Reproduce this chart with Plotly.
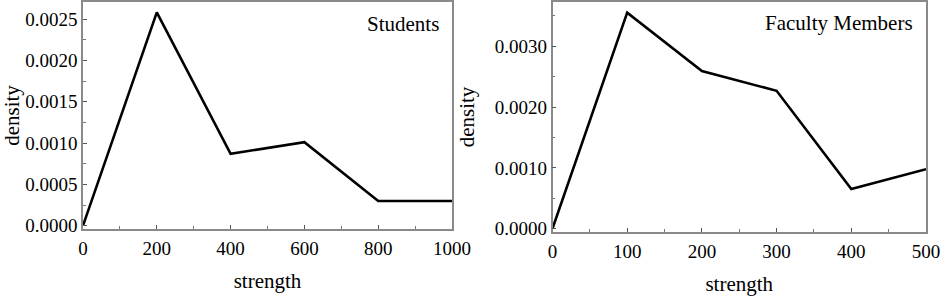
import plotly.graph_objects as go

# Data
students_strength = [0, 200, 400, 600, 800, 1000]
students_density = [0.0, 0.00258, 0.00087, 0.00101, 0.000299, 0.000299]

faculty_strength = [0, 100, 200, 300, 400, 500]
faculty_density = [0.0, 0.003554, 0.002593, 0.002268, 0.000653, 0.000977]

panel_labels = ["Students", "Faculty Members"]

FONT = "Liberation Serif"
FS_TICK = 19
FS_TEXT = 21
W, H = 941, 297
FRAME = "#8a8a8a"

fig = go.Figure()
fig.add_trace(go.Scatter(x=students_strength, y=students_density, mode="lines",
                         line=dict(color="black", width=2.6), xaxis="x", yaxis="y",
                         showlegend=False))
fig.add_trace(go.Scatter(x=faculty_strength, y=faculty_density, mode="lines",
                         line=dict(color="black", width=2.6), xaxis="x2", yaxis="y2",
                         showlegend=False))

def xax(domain, anchor, rng, dtick, mdtick):
    return dict(domain=domain, anchor=anchor, range=rng, dtick=dtick, tick0=0,
                automargin=False, ticklabeloverflow="allow",
                ticks="inside", ticklen=4, tickwidth=1, tickcolor="#555",
                showline=True, linecolor=FRAME, linewidth=1.5, mirror=True,
                showgrid=False, zeroline=False,
                minor=dict(dtick=mdtick, ticks="inside", ticklen=3, tickcolor="#777", showgrid=False),
                tickfont=dict(family=FONT, size=FS_TICK, color="black"),
                ticklabelstandoff=1,
                title=dict(text="strength", font=dict(family=FONT, size=FS_TEXT, color="black"), standoff=16))

def yax(domain, anchor, rng, dtick, mdtick):
    return dict(domain=domain, anchor=anchor, range=rng, dtick=dtick, tick0=0,
                automargin=False, ticklabeloverflow="allow",
                tickformat=".4f",
                ticks="inside", ticklen=4, tickwidth=1, tickcolor="#555",
                showline=True, linecolor=FRAME, linewidth=1.5, mirror=True,
                showgrid=False, zeroline=False,
                minor=dict(dtick=mdtick, ticks="inside", ticklen=3, tickcolor="#777", showgrid=False),
                tickfont=dict(family=FONT, size=FS_TICK, color="black"),
                ticklabelstandoff=0,
                title=dict(text="density", font=dict(family=FONT, size=FS_TEXT, color="black"), standoff=14))

fig.update_layout(
    width=W, height=H,
    margin=dict(l=0, r=0, t=0, b=0),
    paper_bgcolor="white", plot_bgcolor="white",
    xaxis=xax([83 / W, 452 / W], "y", [0, 1000], 200, 100),
    yaxis=yax([1 - 229 / H, 1 - 2 / H], "x", [-0.00004, 0.002706], 0.0005, 0.00025),
    xaxis2=xax([552.5 / W, 926 / W], "y2", [0, 500], 100, 50),
    yaxis2=yax([1 - 232 / H, 1 - 2 / H], "x2", [-0.000056, 0.00373], 0.001, 0.0005),
    annotations=[
        dict(text=panel_labels[0], xref="paper", yref="paper", x=441 / W, y=1 - 24 / H,
             xanchor="right", yanchor="middle", showarrow=False,
             font=dict(family=FONT, size=FS_TEXT, color="black")),
        dict(text=panel_labels[1], xref="paper", yref="paper", x=915 / W, y=1 - 23 / H,
             xanchor="right", yanchor="middle", showarrow=False,
             font=dict(family=FONT, size=FS_TEXT, color="black")),
    ],
)

fig.write_html("out.html", config={"displayModeBar": False},
               post_script="document.body.style.margin='0';document.body.style.overflow='hidden';")
